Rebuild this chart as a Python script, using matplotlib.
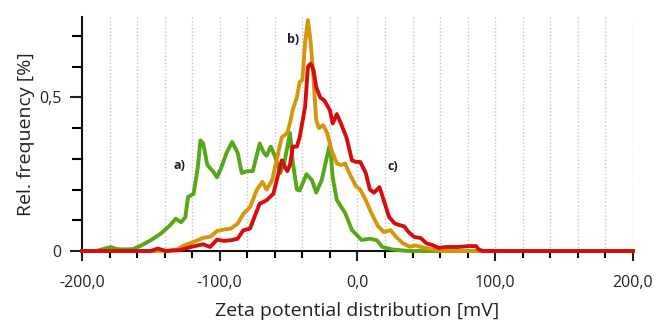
import matplotlib
matplotlib.use("Agg")
import matplotlib.pyplot as plt
from matplotlib.ticker import MultipleLocator, FixedLocator

plt.rcParams['font.family'] = ['Open Sans', 'DejaVu Sans']

# ---- data (mV, relative frequency %) ----
green_x = [-200, -190, -183, -179, -175, -169, -163, -157, -150, -143, -136, -132, -128, -125, -123,
           -119, -116, -114, -112, -109, -105, -102, -99, -95, -91, -87, -84, -80, -76, -71, -68,
           -66, -63, -60, -56, -53, -49, -47, -44, -42, -37, -33, -30, -26, -22, -20, -18, -15,
           -9, -4, 3, 9, 14, 18, 25, 37, 200]
green_y = [0, 0, 0.008, 0.013, 0.006, 0.005, 0.006, 0.018, 0.035, 0.056, 0.084, 0.105, 0.094, 0.11, 0.176,
           0.186, 0.27, 0.36, 0.35, 0.28, 0.26, 0.24, 0.27, 0.32, 0.355, 0.32, 0.254, 0.26, 0.26, 0.35, 0.32,
           0.31, 0.34, 0.31, 0.254, 0.29, 0.384, 0.29, 0.20, 0.197, 0.25, 0.23, 0.19, 0.23, 0.31, 0.35, 0.24,
           0.166, 0.124, 0.068, 0.036, 0.04, 0.035, 0.013, 0.005, 0, 0]

orange_x = [-200, -139, -131, -126, -121, -116, -112, -107, -102, -97, -92, -87, -83, -78, -73, -69,
            -66, -62, -58, -55, -51, -49, -47, -44, -42, -40, -38, -36, -34, -32, -30, -28, -25,
            -22, -19, -15, -12, -9, -6, -1, 2, 6, 10, 15, 19, 24, 28, 33, 38, 42, 49, 56, 62, 200]
orange_y = [0, 0, 0.005, 0.018, 0.026, 0.035, 0.043, 0.046, 0.065, 0.07, 0.073, 0.089, 0.12, 0.143, 0.20, 0.225,
            0.20, 0.23, 0.31, 0.37, 0.384, 0.417, 0.46, 0.50, 0.55, 0.557, 0.68, 0.752, 0.68, 0.567, 0.427, 0.40, 0.41,
            0.384, 0.33, 0.285, 0.28, 0.285, 0.254, 0.21, 0.20, 0.166, 0.124, 0.08, 0.062, 0.068, 0.046, 0.025, 0.014,
            0.018, 0.01, 0.004, 0, 0]

red_x = [-200, -150, -145, -139, -129, -121, -116, -112, -107, -102, -97, -92, -87, -83, -78, -74, -71, -66,
         -61, -57, -55, -51, -49, -47, -44, -42, -38, -36, -34, -32, -30, -27, -24, -20, -18, -15,
         -12, -8, -4, -1, 2, 6, 9, 12, 16, 19, 23, 27, 30, 34, 37, 41, 46, 50, 54, 59, 64, 73, 81,
         86, 88, 91, 200]
red_y = [0, 0, 0.008, 0, 0.003, 0.013, 0.018, 0.022, 0.013, 0.037, 0.033, 0.035, 0.04, 0.067, 0.073, 0.12, 0.154, 0.165,
         0.187, 0.26, 0.295, 0.26, 0.28, 0.34, 0.34, 0.37, 0.47, 0.60, 0.61, 0.59, 0.534, 0.50, 0.49, 0.458, 0.415, 0.446,
         0.415, 0.37, 0.295, 0.29, 0.29, 0.254, 0.20, 0.19, 0.208, 0.166, 0.11, 0.09, 0.085, 0.08, 0.062, 0.046, 0.042,
         0.025, 0.02, 0.01, 0.013, 0.013, 0.016, 0.016, 0.005, 0, 0]

x_ticks = [-200, -100, 0, 100, 200]
x_tick_labels = ["-200,0", "-100,0", "0,0", "100,0", "200,0"]
y_ticks = [0, 0.5]
y_tick_labels = ["0", "0,5"]

labels = ["a)", "b)", "c)"]
label_pos = [(-129, 0.28), (-47, 0.69), (26, 0.274)]

# ---- figure ----
fig = plt.figure(figsize=(6.58, 3.25), dpi=100)
ax = fig.add_axes([0.1246, 0.2277, 0.962 - 0.1246, 0.9477 - 0.2277])

for gx in range(-180, 201, 20):
    ax.axvline(gx, color="#c4c4c4", lw=1.0, ls=(0, (1, 1.5)), zorder=1)

lw = 2.8
ax.plot(green_x, green_y, color="#58a619", lw=lw, zorder=3, clip_on=False, solid_joinstyle="round")
ax.plot(orange_x, orange_y, color="#d4960a", lw=lw, zorder=4, clip_on=False, solid_joinstyle="round")
ax.plot(red_x, red_y, color="#d60d0d", lw=lw, zorder=5, clip_on=False, solid_joinstyle="round")

for t, (lx, ly) in zip(labels, label_pos):
    ax.text(lx, ly, t, fontsize=9, fontweight="bold", color="#1b1b2b", ha="center", va="center")

ax.set_xlim(-200, 200)
ax.set_ylim(0, 0.762)

ax.set_xticks(x_ticks)
ax.set_xticklabels(x_tick_labels)
ax.xaxis.set_minor_locator(MultipleLocator(20))
ax.set_yticks(y_ticks)
ax.set_yticklabels(y_tick_labels)
ax.yaxis.set_minor_locator(FixedLocator([0.1, 0.2, 0.3, 0.4, 0.6, 0.7]))

ax.tick_params(axis="x", which="major", direction="out", length=7, width=1.5, labelsize=11.5, pad=10, colors="#222222")
ax.tick_params(axis="x", which="minor", direction="out", length=5, width=1.5)
ax.tick_params(axis="y", which="major", direction="out", length=9, width=1.5, labelsize=11.5, pad=6, colors="#222222")
ax.tick_params(axis="y", which="minor", direction="out", length=7, width=1.5)

for s in ["top", "right"]:
    ax.spines[s].set_visible(False)
for s in ["left", "bottom"]:
    ax.spines[s].set_linewidth(1.5)
    ax.spines[s].set_color("#111111")

ax.set_xlabel("Zeta potential distribution [mV]", fontsize=14, color="#222222", labelpad=8)
ax.set_ylabel("Rel. frequency [%]", fontsize=14, color="#222222", labelpad=3)

fig.savefig("out.png", dpi=100)
